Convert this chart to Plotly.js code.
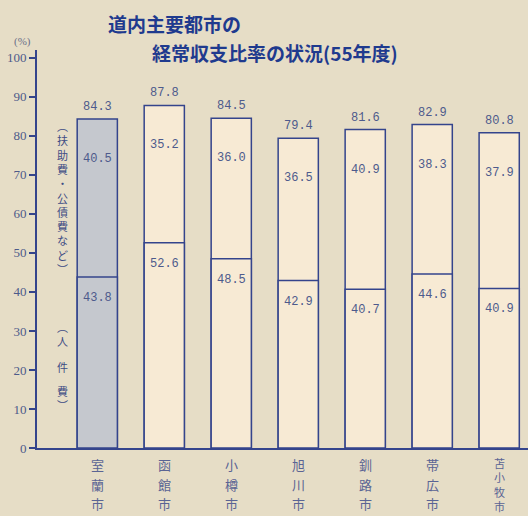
<!DOCTYPE html>
<html>
<head>
<meta charset="utf-8">
<script src="https://cdn.plot.ly/plotly-3.0.1.min.js"></script>
<style>html,body{margin:0;padding:0;background:#e6ddc6;}</style>
</head>
<body>
<div id="chart" style="width:528px;height:516px;"></div>
<script>
// ---- data ----
var cities = ["室蘭市", "函館市", "小樽市", "旭川市", "釧路市", "帯広市", "苫小牧市"];
var personnel = [43.8, 52.6, 48.5, 42.9, 40.7, 44.6, 40.9];      // 人件費
var assistance = [40.5, 35.2, 36.0, 36.5, 40.9, 38.3, 37.9];     // 扶助費・公債費など
var totals = [84.3, 87.8, 84.5, 79.4, 81.6, 82.9, 80.8];         // 経常収支比率
var yTickVals = [0, 10, 20, 30, 40, 50, 60, 70, 80, 90, 100];

// ---- styles ----
var W = 528, H = 516;
var mL = 37, mR = 0, mT = 50, mB = 68;
var plotW = W - mL - mR, plotH = H - mT - mB;
var edge = "#34448c";
var txt = "#4d5a8c";
var fills = cities.map(function (c, i) { return i === 0 ? "#c5c8ce" : "#f7ead4"; });
var idx = cities.map(function (c, i) { return i; });

function px2x(px) { return (px - mL) / plotW; }
function px2y(py) { return (H - mB - py) / plotH; }

var traces = [
  {
    type: "bar", x: idx, y: totals, width: 0.6,
    marker: { color: fills, line: { color: edge, width: 1.5 } },
    hoverinfo: "skip", showlegend: false
  },
  {
    type: "bar", x: idx, y: personnel, width: 0.6,
    marker: { color: fills, line: { color: edge, width: 1.5 } },
    hoverinfo: "skip", showlegend: false
  }
];

var ann = [];
var numFont = { family: "Liberation Mono, DejaVu Sans Mono, monospace", size: 12, color: txt };
var labFont = { family: "Noto Sans CJK JP", size: 13, color: "#5a6494" };
idx.forEach(function (i) {
  ann.push({ x: i, y: totals[i], xref: "x", yref: "y", text: totals[i].toFixed(1),
    showarrow: false, yshift: 12, font: numFont });
  ann.push({ x: i, y: totals[i], xref: "x", yref: "y", text: assistance[i].toFixed(1),
    showarrow: false, yshift: -40, font: numFont });
  ann.push({ x: i, y: personnel[i], xref: "x", yref: "y", text: personnel[i].toFixed(1),
    showarrow: false, yshift: -21, font: numFont });
  // vertical category labels
  var chars = Array.from(cities[i]);
  if (chars.length <= 3) {
    chars.forEach(function (ch, k) {
      ann.push({ x: i, xref: "x", xanchor: "center", y: px2y(465 + k * 19), yref: "paper",
        text: ch, showarrow: false, yanchor: "middle", font: labFont });
    });
  } else {
    ann.push({ x: i, xref: "x", xanchor: "center", y: px2y(484), yref: "paper",
      text: chars.join("<br>"), showarrow: false, yanchor: "middle",
      font: { family: "Noto Sans CJK JP", size: 11, color: "#5a6494" } });
  }
});

// vertical side notes
var sideFont = { family: "Noto Sans CJK JP", size: 11, color: "#3e4c84" };
var side1 = ["︵", "扶", "助", "費", "・", "公", "債", "費", "な", "ど", "︶"];
ann.push({ x: px2x(62), xref: "paper", xanchor: "center", y: px2y(198), yref: "paper",
  yanchor: "middle", text: side1.join("<br>"), showarrow: false, font: sideFont });
ann.push({ x: px2x(62), xref: "paper", xanchor: "center", y: px2y(334), yref: "paper",
  yanchor: "middle", text: "︵<br>人", showarrow: false, font: sideFont });
ann.push({ x: px2x(62), xref: "paper", xanchor: "center", y: px2y(367), yref: "paper",
  yanchor: "middle", text: "件", showarrow: false, font: sideFont });
ann.push({ x: px2x(62), xref: "paper", xanchor: "center", y: px2y(398), yref: "paper",
  yanchor: "middle", text: "費<br>︶", showarrow: false, font: sideFont });

// unit & title line 2
ann.push({ x: px2x(22), xref: "paper", xanchor: "center", y: px2y(42), yref: "paper",
  yanchor: "middle", text: "(%)", showarrow: false,
  font: { family: "Liberation Serif, serif", size: 11, color: "#6a6f88" } });
ann.push({ x: px2x(150), xref: "paper", xanchor: "left", y: px2y(52), yref: "paper",
  yanchor: "middle", text: "<b>経常収支比率の状況(55年度)</b>", showarrow: false,
  font: { family: "Noto Sans CJK JP", size: 19, color: "#1f3a8e" } });

var layout = {
  width: W, height: H,
  margin: { l: mL, r: mR, t: mT, b: mB, pad: 0 },
  paper_bgcolor: "#e6ddc6",
  plot_bgcolor: "#e6ddc6",
  barmode: "overlay",
  title: {
    text: "<b>道内主要都市の</b>",
    x: 108 / W, xref: "container", xanchor: "left",
    y: 1 - 25 / H, yref: "container", yanchor: "middle",
    font: { family: "Noto Sans CJK JP", size: 19, color: "#1f3a8e" }
  },
  xaxis: {
    range: [-0.9, 6.43], showgrid: false, zeroline: false,
    showticklabels: false, ticks: "",
    showline: true, linecolor: edge, linewidth: 2, fixedrange: true
  },
  yaxis: {
    range: [0, 102], tickvals: yTickVals, showgrid: false, zeroline: false,
    showline: true, linecolor: edge, linewidth: 2,
    ticks: "outside", ticklen: 6, tickwidth: 2, tickcolor: edge,
    tickfont: { family: "Liberation Serif, serif", size: 13, color: "#4d5a8a" },
    fixedrange: true
  },
  annotations: ann,
  showlegend: false
};

Plotly.newPlot("chart", traces, layout, { displayModeBar: false, staticPlot: true });
</script>
</body>
</html>
